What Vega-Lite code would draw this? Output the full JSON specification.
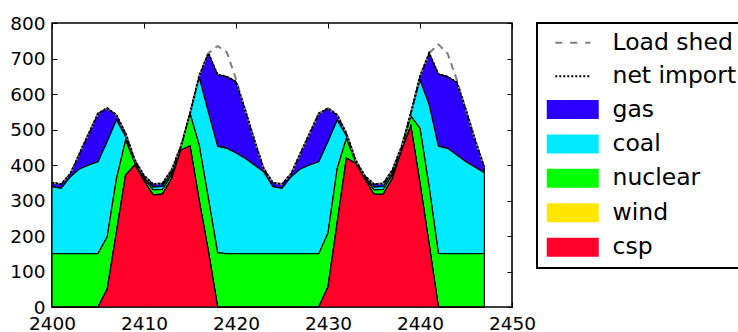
{
  "$schema": "https://vega.github.io/schema/vega-lite/v6.json",
  "width": 460,
  "height": 284,
  "autosize": {"type": "none"},
  "padding": {"left": 52, "top": 23, "right": 226, "bottom": 25},
  "config": {
    "view": {"stroke": "black", "strokeWidth": 1.6},
    "font": "DejaVu Sans",
    "axis": {"grid": false, "domain": false, "labelFont": "DejaVu Sans", "labelFontSize": 18.5, "labelColor": "black", "tickColor": "black", "tickSize": -5, "tickWidth": 1, "labelFlush": false, "labelOverlap": false, "title": null},
    "legend": {
      "title": null,
      "orient": "right",
      "offset": 24,
      "padding": 8,
      "strokeColor": "black",
      "fillColor": "white",
      "labelFont": "DejaVu Sans",
      "labelFontSize": 23.5,
      "labelColor": "black",
      "symbolSize": 289,
      "symbolOffset": 16,
      "labelOffset": 28,
      "rowPadding": 8.4,
      "symbolLimit": 0
    }
  },
  "datasets": {
    "d": [
      {"t":2400,"csp":0,"wind":0,"nuclear":150,"coal":189,"gas":11,"Load shed":350,"net import":350},
      {"t":2401,"csp":0,"wind":0,"nuclear":150,"coal":184,"gas":12,"Load shed":346,"net import":346},
      {"t":2402,"csp":0,"wind":0,"nuclear":150,"coal":217,"gas":9,"Load shed":376,"net import":376},
      {"t":2403,"csp":0,"wind":0,"nuclear":150,"coal":239,"gas":44,"Load shed":433,"net import":433},
      {"t":2404,"csp":0,"wind":0,"nuclear":150,"coal":250,"gas":89,"Load shed":489,"net import":489},
      {"t":2405,"csp":0,"wind":0,"nuclear":150,"coal":259,"gas":136,"Load shed":545,"net import":545},
      {"t":2406,"csp":50,"wind":0,"nuclear":148,"coal":268,"gas":94,"Load shed":560,"net import":560},
      {"t":2407,"csp":210,"wind":0,"nuclear":150,"coal":167,"gas":14,"Load shed":541,"net import":541},
      {"t":2408,"csp":372,"wind":0,"nuclear":98,"coal":10,"gas":9,"Load shed":489,"net import":489},
      {"t":2409,"csp":400,"wind":0,"nuclear":5,"coal":5,"gas":4,"Load shed":414,"net import":414},
      {"t":2410,"csp":355,"wind":0,"nuclear":6,"coal":4,"gas":5,"Load shed":370,"net import":370},
      {"t":2411,"csp":316,"wind":0,"nuclear":14,"coal":8,"gas":8,"Load shed":346,"net import":346},
      {"t":2412,"csp":318,"wind":0,"nuclear":13,"coal":9,"gas":8,"Load shed":348,"net import":348},
      {"t":2413,"csp":362,"wind":0,"nuclear":10,"coal":8,"gas":6,"Load shed":386,"net import":386},
      {"t":2414,"csp":442,"wind":0,"nuclear":5,"coal":3,"gas":2,"Load shed":452,"net import":452},
      {"t":2415,"csp":454,"wind":0,"nuclear":91,"coal":0,"gas":0,"Load shed":545,"net import":545},
      {"t":2416,"csp":300,"wind":0,"nuclear":156,"coal":191,"gas":4,"Load shed":651,"net import":651},
      {"t":2417,"csp":157,"wind":0,"nuclear":148,"coal":243,"gas":167,"Load shed":715,"net import":715},
      {"t":2418,"csp":0,"wind":0,"nuclear":153,"coal":300,"gas":201,"Load shed":735,"net import":654},
      {"t":2419,"csp":0,"wind":0,"nuclear":150,"coal":297,"gas":202,"Load shed":718,"net import":649},
      {"t":2420,"csp":0,"wind":0,"nuclear":150,"coal":284,"gas":201,"Load shed":642,"net import":635},
      {"t":2421,"csp":0,"wind":0,"nuclear":150,"coal":269,"gas":136,"Load shed":555,"net import":555},
      {"t":2422,"csp":0,"wind":0,"nuclear":150,"coal":250,"gas":70,"Load shed":470,"net import":470},
      {"t":2423,"csp":0,"wind":0,"nuclear":150,"coal":231,"gas":10,"Load shed":391,"net import":391},
      {"t":2424,"csp":0,"wind":0,"nuclear":150,"coal":189,"gas":11,"Load shed":350,"net import":350},
      {"t":2425,"csp":0,"wind":0,"nuclear":150,"coal":184,"gas":12,"Load shed":346,"net import":346},
      {"t":2426,"csp":0,"wind":0,"nuclear":150,"coal":217,"gas":9,"Load shed":376,"net import":376},
      {"t":2427,"csp":0,"wind":0,"nuclear":150,"coal":239,"gas":44,"Load shed":433,"net import":433},
      {"t":2428,"csp":0,"wind":0,"nuclear":150,"coal":250,"gas":89,"Load shed":489,"net import":489},
      {"t":2429,"csp":0,"wind":0,"nuclear":150,"coal":259,"gas":136,"Load shed":545,"net import":545},
      {"t":2430,"csp":57,"wind":0,"nuclear":151,"coal":258,"gas":94,"Load shed":560,"net import":560},
      {"t":2431,"csp":238,"wind":0,"nuclear":152,"coal":137,"gas":14,"Load shed":541,"net import":541},
      {"t":2432,"csp":419,"wind":0,"nuclear":56,"coal":7,"gas":7,"Load shed":489,"net import":489},
      {"t":2433,"csp":405,"wind":0,"nuclear":3,"coal":3,"gas":3,"Load shed":414,"net import":414},
      {"t":2434,"csp":360,"wind":0,"nuclear":3,"coal":3,"gas":3,"Load shed":369,"net import":369},
      {"t":2435,"csp":317,"wind":0,"nuclear":13,"coal":8,"gas":8,"Load shed":346,"net import":346},
      {"t":2436,"csp":318,"wind":0,"nuclear":13,"coal":9,"gas":8,"Load shed":348,"net import":348},
      {"t":2437,"csp":362,"wind":0,"nuclear":10,"coal":8,"gas":6,"Load shed":386,"net import":386},
      {"t":2438,"csp":440,"wind":0,"nuclear":6,"coal":4,"gas":2,"Load shed":452,"net import":452},
      {"t":2439,"csp":510,"wind":0,"nuclear":28,"coal":7,"gas":0,"Load shed":545,"net import":545},
      {"t":2440,"csp":348,"wind":0,"nuclear":155,"coal":136,"gas":11,"Load shed":650,"net import":650},
      {"t":2441,"csp":175,"wind":0,"nuclear":162,"coal":232,"gas":146,"Load shed":715,"net import":715},
      {"t":2442,"csp":0,"wind":0,"nuclear":151,"coal":302,"gas":203,"Load shed":740,"net import":656},
      {"t":2443,"csp":0,"wind":0,"nuclear":150,"coal":297,"gas":202,"Load shed":714,"net import":649},
      {"t":2444,"csp":0,"wind":0,"nuclear":150,"coal":278,"gas":205,"Load shed":640,"net import":633},
      {"t":2445,"csp":0,"wind":0,"nuclear":150,"coal":259,"gas":146,"Load shed":555,"net import":555},
      {"t":2446,"csp":0,"wind":0,"nuclear":150,"coal":244,"gas":76,"Load shed":470,"net import":470},
      {"t":2447,"csp":0,"wind":0,"nuclear":150,"coal":228,"gas":15,"Load shed":393,"net import":393}
    ]
  },
  "data": {"name": "d"},
  "layer": [
    {
      "transform": [
        {"fold": ["gas", "coal", "nuclear", "wind", "csp"], "as": ["source", "MW"]},
        {"window": [{"op": "row_number", "as": "rank"}], "groupby": ["t"]}
      ],
      "mark": {"type": "area", "stroke": "black", "strokeWidth": 1.2, "opacity": 1, "fillOpacity": 1},
      "encoding": {
        "x": {"field": "t", "type": "quantitative", "scale": {"domain": [2400, 2450], "nice": false, "zero": false},
              "axis": {"orient": "bottom", "values": [2400, 2410, 2420, 2430, 2440, 2450], "format": "d", "labelPadding": 12}},
        "y": {"field": "MW", "type": "quantitative", "stack": "zero", "scale": {"domain": [0, 800], "nice": false},
              "axis": {"orient": "left", "values": [0, 100, 200, 300, 400, 500, 600, 700, 800], "labelPadding": 12}},
        "order": {"field": "rank", "type": "quantitative", "sort": "descending"},
        "color": {
          "field": "source", "type": "nominal",
          "scale": {"domain": ["Load shed", "net import", "gas", "coal", "nuclear", "wind", "csp"],
                    "range": ["#808080", "#000000", "#2b00ff", "#00eaff", "#00ff00", "#ffe600", "#ff0029"]},
          "legend": {
            "values": ["Load shed", "net import", "gas", "coal", "nuclear", "wind", "csp"],
            "encode": {
              "legend": {"update": {"strokeWidth": {"value": 2}}},
              "symbols": {
                "update": {
                  "shape": {"signal": "indexof(['Load shed','net import'], datum.value) >= 0 ? 'M-2.06,0H2.06' : 'M-2.94,-1H2.94V1H-2.94Z'"},
                  "fill": {"signal": "indexof(['Load shed','net import'], datum.value) >= 0 ? 'transparent' : scale('color', datum.value)"},
                  "stroke": {"signal": "datum.value === 'Load shed' ? '#808080' : (datum.value === 'net import' ? 'black' : 'transparent')"},
                  "strokeDash": {"signal": "datum.value === 'Load shed' ? '7,8' : (datum.value === 'net import' ? '2,2' : '1,0')"},
                  "strokeWidth": {"value": 2},
                  "opacity": {"value": 1},
                  "fillOpacity": {"value": 1},
                  "strokeOpacity": {"value": 1}
                }
              }
            }
          }
        }
      }
    },
    {
      "transform": [{"fold": ["Load shed", "net import"], "as": ["source", "MW"]}],
      "mark": {"type": "line", "strokeWidth": 2},
      "encoding": {
        "x": {"field": "t", "type": "quantitative", "axis": {"orient": "top", "labels": false, "values": [2400, 2410, 2420, 2430, 2440, 2450]}},
        "y": {"field": "MW", "type": "quantitative", "axis": {"orient": "right", "labels": false, "values": [0, 100, 200, 300, 400, 500, 600, 700, 800]}},
        "color": {
          "field": "source", "type": "nominal",
          "legend": {
            "values": ["Load shed", "net import", "gas", "coal", "nuclear", "wind", "csp"],
            "encode": {
              "legend": {"update": {"strokeWidth": {"value": 2}}},
              "symbols": {
                "update": {
                  "shape": {"signal": "indexof(['Load shed','net import'], datum.value) >= 0 ? 'M-2.06,0H2.06' : 'M-2.94,-1H2.94V1H-2.94Z'"},
                  "fill": {"signal": "indexof(['Load shed','net import'], datum.value) >= 0 ? 'transparent' : scale('color', datum.value)"},
                  "stroke": {"signal": "datum.value === 'Load shed' ? '#808080' : (datum.value === 'net import' ? 'black' : 'transparent')"},
                  "strokeDash": {"signal": "datum.value === 'Load shed' ? '7,8' : (datum.value === 'net import' ? '2,2' : '1,0')"},
                  "strokeWidth": {"value": 2},
                  "opacity": {"value": 1},
                  "fillOpacity": {"value": 1},
                  "strokeOpacity": {"value": 1}
                }
              }
            }
          }
        },
        "strokeDash": {"field": "source", "type": "nominal", "scale": {"domain": ["Load shed", "net import"], "range": [[7, 5], [2, 2]]}, "legend": null}
      }
    }
  ]
}
